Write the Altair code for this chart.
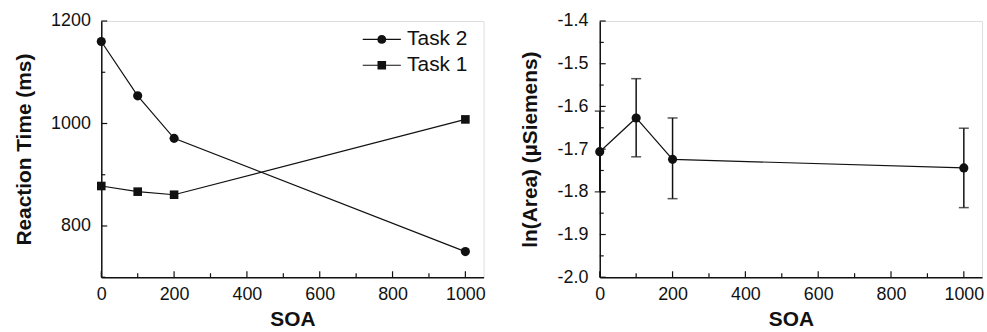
import altair as alt
import pandas as pd

# ---------------- data ----------------
soa = [0, 100, 200, 1000]
task2_rt = [1160, 1054, 971, 750]
task1_rt = [878, 867, 861, 1008]
task_names = ["Task 2", "Task 1"]

area_mean = [-1.706, -1.627, -1.724, -1.744]
area_low = [-1.800, -1.718, -1.816, -1.837]
area_high = [-1.611, -1.535, -1.627, -1.651]

x_major = [0, 200, 400, 600, 800, 1000]
x_minor = [100, 300, 500, 700, 900]
rt_major = [800, 1000, 1200]
rt_minor = [700, 900, 1100]
area_major = [-2.0, -1.9, -1.8, -1.7, -1.6, -1.5, -1.4]
area_minor = [-1.95, -1.85, -1.75, -1.65, -1.55, -1.45]

# ---------------- style ----------------
FONT = "Liberation Sans"
W, H = 385, 258
BLACK = "#111111"

rt_df = pd.DataFrame({
    "SOA": soa + soa,
    "RT": task2_rt + task1_rt,
    "Task": [task_names[0]] * len(soa) + [task_names[1]] * len(soa),
})
area_df = pd.DataFrame({"SOA": soa, "Area": area_mean, "Low": area_low, "High": area_high})

xscale = alt.Scale(domain=[0, 1050], nice=False, zero=False)
rt_scale = alt.Scale(domain=[700, 1200], nice=False, zero=False)
area_scale = alt.Scale(domain=[-2.0, -1.4], nice=False, zero=False)

X_AXIS = alt.Axis(values=x_major, title="SOA", format="d", ticks=False, tickSize=0, grid=False,
                  labelFontSize=18, labelPadding=8, titleFontSize=21, titleFontWeight="bold",
                  titlePadding=6, labelFont=FONT, titleFont=FONT, labelColor=BLACK,
                  titleColor=BLACK, domainColor=BLACK, domainWidth=1.5, labelFlush=False)

def y_axis(values, title, label_pad, title_pad, fmt=None, expr=None):
    kw = dict(values=values, title=title, ticks=False, tickSize=0, grid=False,
              labelFontSize=18, labelPadding=label_pad, titleFontSize=21, titleFontWeight="bold",
              titlePadding=title_pad, labelFont=FONT, titleFont=FONT, labelColor=BLACK,
              titleColor=BLACK, domainColor=BLACK, domainWidth=1.5, labelFlush=False)
    if fmt:
        kw["format"] = fmt
    if expr:
        kw["labelExpr"] = expr
    return alt.Axis(**kw)

RT_AXIS = y_axis(rt_major, "Reaction Time (ms)", 11, 16, fmt="d")
minus_fix = "replace(format(datum.value, '.1f'), '\u2212', '-')"
AREA_AXIS = y_axis(area_major, "ln(Area) (\u00b5Siemens)", 12, 17, expr=minus_fix)

def x_ticks(vals, length):
    return alt.Chart(pd.DataFrame({"SOA": vals})).mark_rule(color=BLACK, strokeWidth=1.2).encode(
        x=alt.X("SOA:Q", scale=xscale, axis=X_AXIS),
        y=alt.value(H), y2=alt.value(H - length))

def y_ticks(vals, field, scale, axis, length):
    return alt.Chart(pd.DataFrame({field: vals})).mark_rule(color=BLACK, strokeWidth=1.2).encode(
        y=alt.Y(f"{field}:Q", scale=scale, axis=axis),
        x=alt.value(0), x2=alt.value(length))

# ---------------- left panel ----------------
base_rt = alt.Chart(rt_df)
rt_x = alt.X("SOA:Q", scale=xscale, axis=X_AXIS)
rt_y = alt.Y("RT:Q", scale=rt_scale, axis=RT_AXIS)
rt_line = base_rt.mark_line(color=BLACK, strokeWidth=1.2).encode(x=rt_x, y=rt_y, detail="Task:N")
rt_pts = base_rt.mark_point(filled=True, opacity=1, color=BLACK).encode(
    x=rt_x, y=rt_y,
    shape=alt.Shape("Task:N", scale=alt.Scale(domain=task_names, range=["circle", "square"]), legend=None),
    size=alt.Size("Task:N", scale=alt.Scale(domain=task_names, range=[85, 75]), legend=None))

circ_path = ("M-3.2,-0.1H-0.7V0.1H-3.2Z M0.7,-0.1H3.2V0.1H0.7Z "
             "M0.75,0A0.75,0.75,0,1,1,-0.75,0A0.75,0.75,0,1,1,0.75,0Z")
sq_path = ("M-3.2,-0.1H-0.7V0.1H-3.2Z M0.7,-0.1H3.2V0.1H0.7Z "
           "M-0.72,-0.72H0.72V0.72H-0.72Z")
rt_leg = base_rt.mark_point(filled=True, opacity=0, color=BLACK).encode(
    x=rt_x, y=rt_y,
    shape=alt.Shape("Task:N", scale=alt.Scale(domain=task_names, range=[circ_path, sq_path]),
                    legend=alt.Legend(title=None, orient="none", legendX=272, legendY=8,
                                      labelFont=FONT, labelFontSize=21, labelColor=BLACK,
                                      symbolSize=144, symbolOpacity=1, symbolFillColor=BLACK,
                                      symbolStrokeWidth=0, labelOffset=15, rowPadding=4,
                                      padding=0, labelLimit=200)))

left = alt.layer(
    rt_line, rt_pts, rt_leg,
    x_ticks(x_major, 6), x_ticks(x_minor, 4),
    y_ticks(rt_major, "RT", rt_scale, RT_AXIS, 6), y_ticks(rt_minor, "RT", rt_scale, RT_AXIS, 4),
).resolve_scale(shape="independent").properties(width=W, height=H)

# ---------------- right panel ----------------
base_a = alt.Chart(area_df)
a_x = alt.X("SOA:Q", scale=xscale, axis=X_AXIS)
a_y = alt.Y("Area:Q", scale=area_scale, axis=AREA_AXIS)
a_line = base_a.mark_line(color=BLACK, strokeWidth=1.2).encode(x=a_x, y=a_y)
a_err = base_a.mark_rule(color=BLACK, strokeWidth=1.5, clip=False).encode(
    x=a_x, y=alt.Y("Low:Q", scale=area_scale, axis=AREA_AXIS), y2="High:Q")
a_cap_lo = base_a.mark_tick(color=BLACK, thickness=1.5, size=10, orient="horizontal", clip=False).encode(
    x=a_x, y=alt.Y("Low:Q", scale=area_scale, axis=AREA_AXIS))
a_cap_hi = base_a.mark_tick(color=BLACK, thickness=1.5, size=10, orient="horizontal", clip=False).encode(
    x=a_x, y=alt.Y("High:Q", scale=area_scale, axis=AREA_AXIS))
a_pts = base_a.mark_point(filled=True, opacity=1, color=BLACK, size=85).encode(x=a_x, y=a_y)

right = alt.layer(
    a_line, a_err, a_cap_lo, a_cap_hi, a_pts,
    x_ticks(x_major, 6), x_ticks(x_minor, 4),
    y_ticks(area_major, "Area", area_scale, AREA_AXIS, 6),
    y_ticks(area_minor, "Area", area_scale, AREA_AXIS, 4),
).properties(width=W, height=H)

chart = alt.hconcat(left, right, spacing=117, bounds="flush").configure_view(
    stroke="#333333", strokeWidth=1
).configure(
    background="white", padding={"left": 13, "top": 10, "right": 2, "bottom": 2}
)

chart.save("out.html", embed_options={"renderer": "svg", "actions": False})
